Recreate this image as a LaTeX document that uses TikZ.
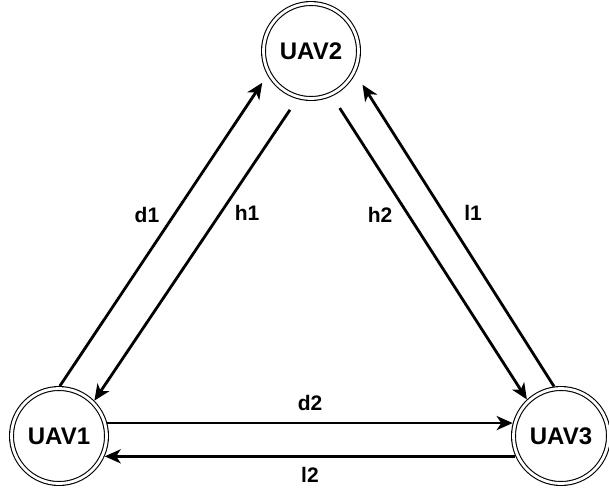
\documentclass[tikz,border=0pt]{standalone}
\usepackage{fontspec}
\setmainfont{Liberation Sans}
\usetikzlibrary{arrows.meta}
\begin{document}
\begin{tikzpicture}[x=1pt,y=-1pt,
  uav/.style={circle, draw, double, line width=1.1pt, double distance=2.8pt,
    minimum size=95pt, inner sep=0pt, outer sep=2.5pt,
    font=\fontsize{24}{28}\selectfont\bfseries},
  link/.style={line width=2.8pt, -{Stealth[length=16pt,width=14pt,inset=4.5pt]}},
  lbl/.style={font=\fontsize{21}{24}\selectfont\bfseries, inner sep=0pt}]
\useasboundingbox (0,0) rectangle (609,488);
% the three vehicles
\node[uav] (u1) at (59,436) {UAV1};
\node[uav] (u2) at (311,51) {UAV2};
\node[uav] (u3) at (561,436) {UAV3};
% links between them
\draw[link, shorten >=9pt] (u1.89) -- (u2.209);
\draw[link, shorten <=13pt] (u2.254) -- (u1.45);
\draw[link, shorten <=14pt] (u2.295) -- (u3.133);
\draw[link, shorten >=13pt] (u3.98) -- (u2.333);
\draw[link] (u1.15) -- (u3.165);
\draw[link] (u3.204) -- (u1.336);
% link labels
\node[lbl] (ld1) at (147,215) {d1};
\node[lbl] (lh1) at (247,213) {h1};
\node[lbl] (lh2) at (380,215) {h2};
\node[lbl] (ll1) at (473,213) {l1};
\node[lbl] (ld2) at (310,403) {d2};
\node[lbl] (ll2) at (310,475) {l2};
\end{tikzpicture}
\end{document}
